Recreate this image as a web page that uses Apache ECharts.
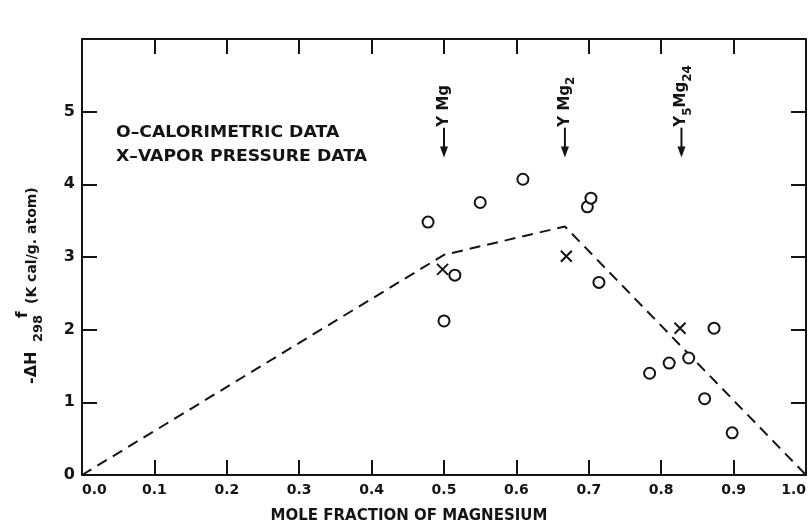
<!DOCTYPE html>
<html>
<head>
<meta charset="utf-8">
<script src="https://cdn.jsdelivr.net/npm/echarts@6/dist/echarts.min.js"></script>
<style>
  html, body { margin: 0; padding: 0; background: #fff; }
  #chart { width: 809px; height: 525px; }
</style>
</head>
<body>
<div id="chart"></div>
<script>
// Heat of formation of Y–Mg alloys vs. mole fraction of magnesium

// Calorimetric measurements (open circles)
const calX = [0.478, 0.550, 0.609, 0.698, 0.703, 0.500, 0.515, 0.714, 0.784, 0.811, 0.838, 0.860, 0.873, 0.898];
const calY = [3.48, 3.75, 4.07, 3.69, 3.81, 2.12, 2.75, 2.65, 1.40, 1.54, 1.61, 1.05, 2.02, 0.58];

// Vapor pressure measurements (crosses)
const vapX = [0.498, 0.669, 0.826];
const vapY = [2.83, 3.01, 2.02];

// Estimated enthalpy curve (dashed)
const estX = [0.0, 0.5, 0.667, 1.0];
const estY = [0.0, 3.03, 3.42, 0.0];

// Intermetallic compounds marked along the top
const compX = [0.5, 0.667, 0.828];
const compLabels = ['{m|Y Mg}', '{m|Y Mg}{s|2}', '{m|Y}{s|5}{m|Mg}{s|24}'];
const arrowTop = 4.78;
const arrowTip = 4.37;

// Axis ranges and tick steps
const xMin = 0, xMax = 1, xStep = 0.1;
const yMin = 0, yMax = 6, yStep = 1;

const legendLines = ['O–CALORIMETRIC DATA', 'X–VAPOR PRESSURE DATA'];
const xTitle = 'MOLE FRACTION OF MAGNESIUM';

const FONT = '"DejaVu Sans", sans-serif';
const INK = '#141414';

const chart = echarts.init(document.getElementById('chart'), null, { renderer: 'canvas' });

const pair = (xs, ys) => xs.map((x, i) => [x, ys[i]]);

const tickStyle = { show: true, inside: true, length: 15, lineStyle: { color: INK, width: 2 } };
const lineStyle = { show: true, onZero: false, lineStyle: { color: INK, width: 2 } };

const option = {
  backgroundColor: '#fff',
  animation: false,
  grid: { left: 82, right: 3, top: 39, bottom: 50, outerBoundsMode: 'none', containLabel: false },
  xAxis: [
    {
      type: 'value', position: 'bottom', min: xMin, max: xMax, interval: xStep,
      axisLine: lineStyle, axisTick: tickStyle, splitLine: { show: false },
      axisLabel: {
        color: INK, fontFamily: FONT, fontSize: 14, fontWeight: 'bold', margin: 8,
        alignMinLabel: 'left', alignMaxLabel: 'right',
        formatter: v => v.toFixed(1)
      }
    },
    {
      type: 'value', position: 'top', min: xMin, max: xMax, interval: xStep,
      axisLine: lineStyle, axisTick: tickStyle, splitLine: { show: false },
      axisLabel: { show: false }
    }
  ],
  yAxis: [
    {
      type: 'value', position: 'left', min: yMin, max: yMax, interval: yStep,
      axisLine: lineStyle, axisTick: tickStyle, splitLine: { show: false },
      axisLabel: {
        color: INK, fontFamily: FONT, fontSize: 16, fontWeight: 'bold', margin: 7,
        formatter: v => (v === yMax ? '' : String(v))
      }
    },
    {
      type: 'value', position: 'right', min: yMin, max: yMax, interval: yStep,
      axisLine: lineStyle, axisTick: tickStyle, splitLine: { show: false },
      axisLabel: { show: false }
    }
  ],
  series: [
    {
      name: 'estimate', type: 'line', data: pair(estX, estY),
      symbol: 'none', silent: true,
      lineStyle: { color: INK, width: 2, type: [11, 7] },
      z: 2
    },
    {
      name: 'calorimetric', type: 'scatter', data: pair(calX, calY),
      symbol: 'emptyCircle', symbolSize: 11,
      itemStyle: { color: INK, borderColor: INK, borderWidth: 2, opacity: 1 },
      z: 3
    },
    {
      name: 'vapor pressure', type: 'scatter', data: pair(vapX, vapY),
      symbol: 'path://M0,0L10,10M10,0L0,10', symbolSize: 11,
      itemStyle: { color: 'none', borderColor: INK, borderWidth: 2, opacity: 1 },
      z: 3
    }
  ]
};

chart.setOption(option);

// Static text and compound markers
function buildGraphics() {
  const els = [];

  // compound arrows with rotated labels
  compX.forEach((x, i) => {
    const top = chart.convertToPixel({ xAxisIndex: 0, yAxisIndex: 0 }, [x, arrowTop]);
    const tip = chart.convertToPixel({ xAxisIndex: 0, yAxisIndex: 0 }, [x, arrowTip]);
    els.push({
      type: 'line', silent: true,
      shape: { x1: top[0], y1: top[1], x2: tip[0], y2: tip[1] - 8 },
      style: { stroke: INK, lineWidth: 2 }
    });
    els.push({
      type: 'polygon', silent: true,
      shape: { points: [[tip[0] - 4, tip[1] - 11], [tip[0] + 4, tip[1] - 11], [tip[0], tip[1]]] },
      style: { fill: INK }
    });
    els.push({
      type: 'text', silent: true,
      x: top[0], y: top[1] - 1, rotation: Math.PI / 2,
      style: {
        text: compLabels[i], align: 'left', verticalAlign: 'middle',
        rich: {
          m: { fontFamily: FONT, fontSize: 15, fontWeight: 'bold', fill: INK, lineHeight: 20, verticalAlign: 'middle' },
          s: { fontFamily: FONT, fontSize: 12, fontWeight: 'bold', fill: INK, lineHeight: 20, padding: [12, 0, 0, 0], verticalAlign: 'middle' }
        }
      }
    });
  });

  // key
  legendLines.forEach((t, i) => {
    els.push({
      type: 'text', silent: true, x: 116, y: 133 + i * 24, scaleX: 1.15,
      style: { text: t, fontFamily: FONT, fontSize: 15, fontWeight: 'bold', fill: INK, align: 'left', verticalAlign: 'middle' }
    });
  });

  // x axis title
  els.push({
    type: 'text', silent: true, x: 409, y: 516,
    style: { text: xTitle, fontFamily: FONT, fontSize: 15, fontWeight: 'bold', fill: INK, align: 'center', verticalAlign: 'middle' }
  });

  // y axis title: -ΔH with stacked f / 298
  const rot = Math.PI / 2;
  els.push({
    type: 'text', silent: true, x: 32, y: 384, rotation: rot,
    style: { text: '-ΔH', fontFamily: FONT, fontSize: 16, fontWeight: 'bold', fill: INK, align: 'left', verticalAlign: 'middle' }
  });
  els.push({
    type: 'text', silent: true, x: 39, y: 342, rotation: rot,
    style: { text: '298', fontFamily: FONT, fontSize: 13, fontWeight: 'bold', fill: INK, align: 'left', verticalAlign: 'middle' }
  });
  els.push({
    type: 'text', silent: true, x: 23, y: 318, rotation: rot,
    style: { text: 'f', fontFamily: FONT, fontSize: 15, fontWeight: 'bold', fill: INK, align: 'left', verticalAlign: 'middle' }
  });
  els.push({
    type: 'text', silent: true, x: 32, y: 304, rotation: rot,
    style: { text: '(K cal/g. atom)', fontFamily: FONT, fontSize: 14, fontWeight: 'bold', fill: INK, align: 'left', verticalAlign: 'middle' }
  });

  chart.setOption({ graphic: { elements: els } });
}

buildGraphics();
</script>
</body>
</html>
